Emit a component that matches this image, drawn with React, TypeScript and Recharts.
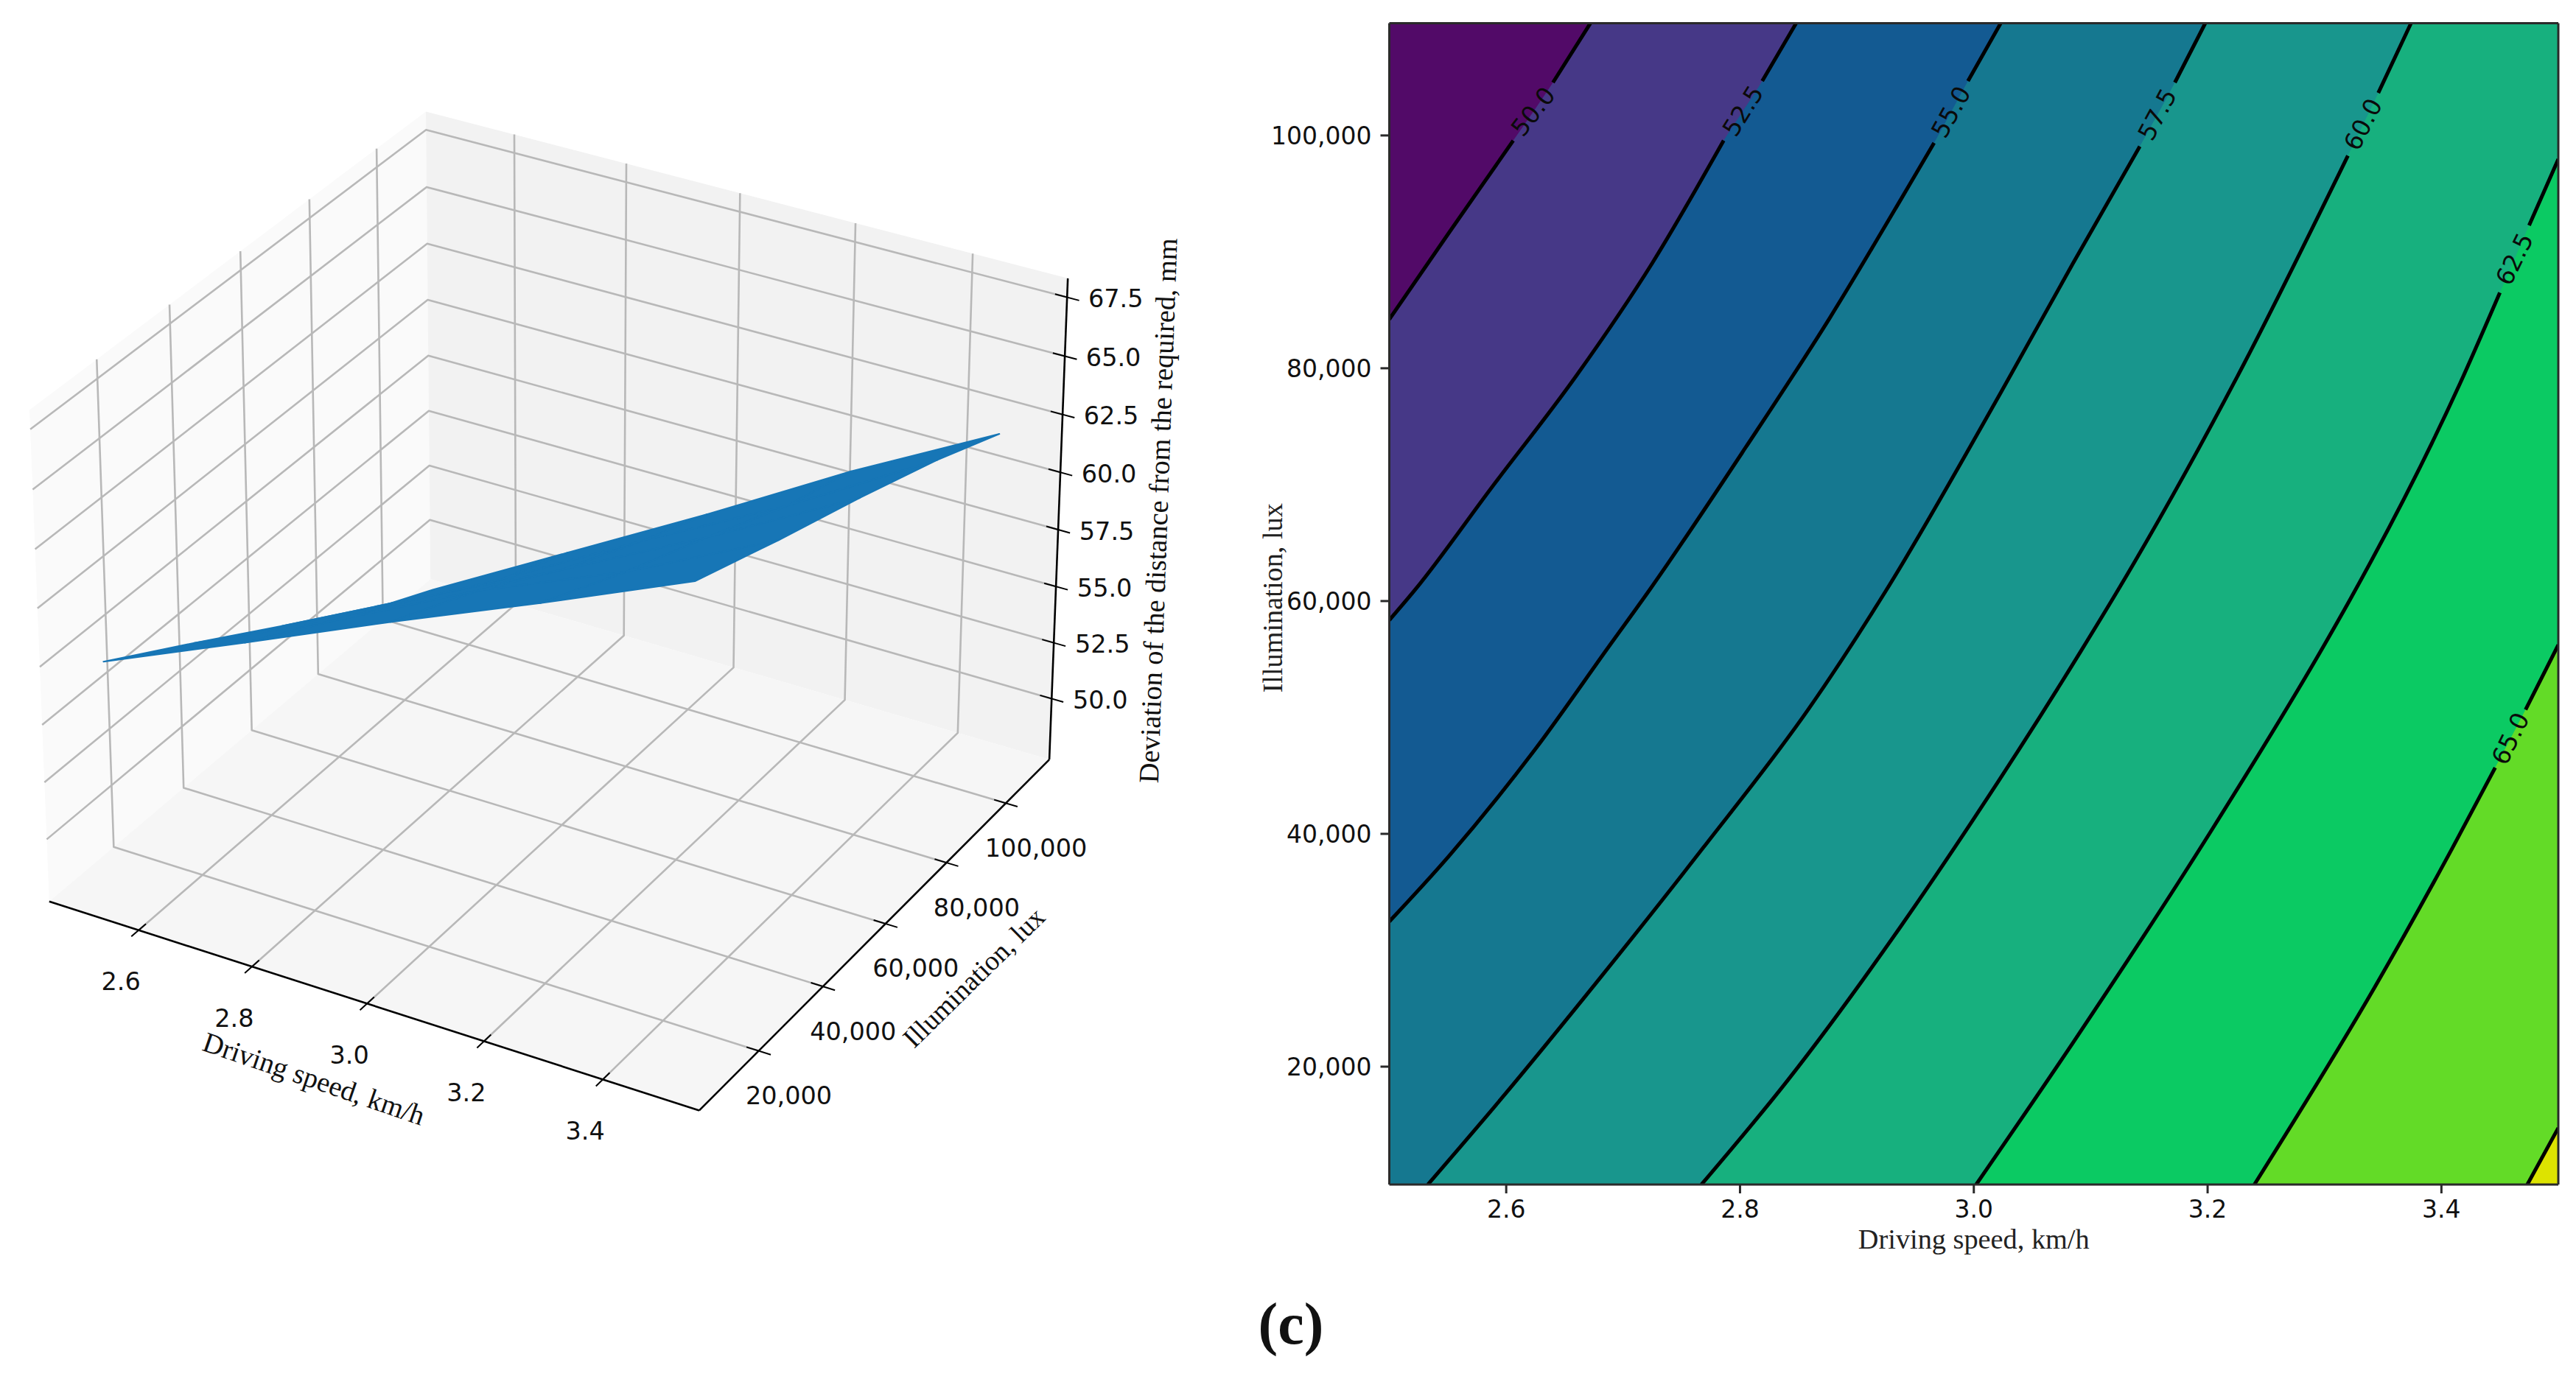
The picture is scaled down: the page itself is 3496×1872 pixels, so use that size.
import React from "react";
import {
  Area,
  ComposedChart,
  Line,
  ReferenceDot,
  ReferenceLine,
  Scatter,
  ScatterChart,
  XAxis,
  YAxis,
} from "recharts";

// shared axis ticks
const speedTicks = [2.6, 2.8, 3.0, 3.2, 3.4];
const luxTicks = [20000, 40000, 60000, 80000, 100000];
const deviationTicks = [50, 52.5, 55, 57.5, 60, 62.5, 65, 67.5];

// 3D surface
const surfaceSpeeds = [2.5, 2.75, 3.0, 3.25, 3.5];
const surfaceLux = [10000, 35000, 60000, 85000, 105700];
const surfaceAt10k = [57.15, 59.8, 62.5, 65.1, 67.8];
const surfaceAt35k = [54.8, 57.6, 60.7, 63.3, 66.4];
const surfaceAt60k = [52.4, 55.5, 58.5, 61.7, 65.1];
const surfaceAt85k = [49.95, 53.2, 56.7, 60.0, 63.7];
const surfaceAtTop = [48.35, 51.85, 55.35, 59.0, 62.35];
const surfaceRows = [surfaceAt10k, surfaceAt35k, surfaceAt60k, surfaceAt85k, surfaceAtTop];

// contour lines as [speed, lux]
const luxMin = 9873;
const luxMax = 109637;
const contour50 = [[2.5, 84200], [2.551, 91640], [2.606, 99560], [2.64, 104550], [2.672, 109640]];
const contour525 = [[2.5, 58358], [2.5224, 61012], [2.587, 69681], [2.66, 79359], [2.725, 89046], [2.786, 99561], [2.819, 104679], [2.848, 109640]];
const contour55 = [[2.5, 32470], [2.551, 38096], [2.624, 47165], [2.689, 56263], [2.723, 61012], [2.805, 73223], [2.877, 84357], [2.938, 94573], [2.966, 99361], [2.995, 104679], [3.023, 109640]];
const contour575 = [[2.533, 9873], [2.595, 17155], [2.678, 27332], [2.7685, 38805], [2.859, 50776], [2.924, 60753], [3.022, 77712], [3.085, 89046], [3.142, 99061], [3.172, 104549], [3.198, 109640]];
const contour60 = [[2.767, 9873], [2.841, 18852], [2.938, 32120], [3.0, 41299], [3.092, 55764], [3.124, 61052], [3.225, 79209], [3.32, 98264], [3.346, 103651], [3.374, 109640]];
const contour625 = [[3.002, 9873], [3.085, 22084], [3.203, 40251], [3.3, 56263], [3.322, 60154], [3.416, 78709], [3.45, 86492], [3.475, 92268], [3.5, 97965]];
const contour65 = [[3.24, 9873], [3.343, 26833], [3.409, 38705], [3.446, 45688], [3.472, 50676], [3.5, 56240]];
const contour675 = [[3.4735, 9873], [3.5, 14741]];

const contours = [
  { level: "50.0", pts: contour50, gapAfter: 2, angle: -52, fill: "#463887" },
  { level: "52.5", pts: contour525, gapAfter: 5, angle: -58, fill: "#135a92" },
  { level: "55.0", pts: contour55, gapAfter: 8, angle: -61, fill: "#157890" },
  { level: "57.5", pts: contour575, gapAfter: 8, angle: -62, fill: "#18968d" },
  { level: "60.0", pts: contour60, gapAfter: 7, angle: -63, fill: "#17b07e" },
  { level: "62.5", pts: contour625, gapAfter: 6, angle: -64, fill: "#0bca63" },
  { level: "65.0", pts: contour65, gapAfter: 3, angle: -64, fill: "#63db27" },
  { level: "", pts: contour675, gapAfter: -1, angle: 0, fill: "#dde300" },
];
const lowestFill = "#520a68";

const SERIF = "'Liberation Serif', serif";
const SANS = "'DejaVu Sans', sans-serif";
const fmtLux = (v: number) => v.toLocaleString("en-US");

// mplot3d style projection, elev 30 azim -60
const xLim = [2.44, 3.56];
const yLim = [2000, 115000];
const zLim = [47.25, 68.3];
const SCALE_X = 1012;
const SCALE_Y = 1016;
const OX = 756;
const OY = 802;
const LEFT_W = 1700;
const LEFT_H = 1872;

function project(speed: number, lux: number, dev: number) {
  const dx = (speed - xLim[0]) / (xLim[1] - xLim[0]) - 0.5;
  const dy = (lux - yLim[0]) / (yLim[1] - yLim[0]) - 0.5;
  const dz = ((dev - zLim[0]) / (zLim[1] - zLim[0]) - 0.5) * 0.75;
  const u = 0.866 * dx + 0.5 * dy;
  const v = -0.25 * dx + 0.433 * dy + 0.866 * dz;
  const n = 0.433 * dx - 0.75 * dy + 0.5 * dz;
  const f = 10 / (10 - n);
  return { x: u * f, y: v * f };
}

const [x0, x1] = xLim;
const [y0, y1] = yLim;
const [z0, z1] = zLim;
const tx = (x1 - x0) * 0.018;
const ty = (y1 - y0) * 0.018;

type Shape = { pts: { x: number; y: number }[]; stroke: string; width: number; fill?: string };
const shapes: Shape[] = [];
const add = (pts: number[][], stroke: string, width: number, fill?: string) =>
  shapes.push({ pts: pts.map((p) => project(p[0], p[1], p[2])), stroke, width, fill });

// panes
add([[x0, y0, z0], [x0, y1, z0], [x0, y1, z1], [x0, y0, z1]], "none", 0, "#fafafa");
add([[x0, y1, z0], [x1, y1, z0], [x1, y1, z1], [x0, y1, z1]], "none", 0, "#f2f2f2");
add([[x0, y0, z0], [x1, y0, z0], [x1, y1, z0], [x0, y1, z0]], "none", 0, "#f6f6f6");

// grid
const GRID = "#b8b8b8";
speedTicks.forEach((s) => add([[s, y0, z0], [s, y1, z0], [s, y1, z1]], GRID, 2.6));
luxTicks.forEach((l) => add([[x1, l, z0], [x0, l, z0], [x0, l, z1]], GRID, 2.6));
deviationTicks.forEach((d) => add([[x0, y0, d], [x0, y1, d], [x1, y1, d]], GRID, 2.6));

// surface cells
const BLUE = "#1776b6";
surfaceRows.slice(0, -1).forEach((row, r) => {
  surfaceSpeeds.slice(0, -1).forEach((s, c) => {
    add(
      [
        [s, surfaceLux[r], row[c]],
        [surfaceSpeeds[c + 1], surfaceLux[r], row[c + 1]],
        [surfaceSpeeds[c + 1], surfaceLux[r + 1], surfaceRows[r + 1][c + 1]],
        [s, surfaceLux[r + 1], surfaceRows[r + 1][c]],
      ],
      BLUE,
      2,
      BLUE
    );
  });
});

// axis lines and ticks
add([[x0, y0, z0], [x1, y0, z0]], "#000", 2.6);
add([[x1, y0, z0], [x1, y1, z0]], "#000", 2.6);
add([[x1, y1, z0], [x1, y1, z1]], "#000", 2.6);
speedTicks.forEach((s) => add([[s, y0 - ty, z0], [s, y0 + ty, z0]], "#000", 2));
luxTicks.forEach((l) => add([[x1 - tx, l, z0], [x1 + tx, l, z0]], "#000", 2));
deviationTicks.forEach((d) => add([[x1 - tx, y1, d], [x1 + tx, y1, d]], "#000", 2));

const drawShape = (shape: Shape) => (props: any) => {
  const d = props.points.map((p: any, i: number) => `${i ? "L" : "M"}${p.x} ${p.y}`).join(" ");
  return (
    <path
      d={shape.fill ? d + " Z" : d}
      fill={shape.fill || "none"}
      stroke={shape.stroke}
      strokeWidth={shape.width}
      strokeLinejoin="round"
    />
  );
};
const noDot = () => <g />;

type Note = { at: { x: number; y: number }; text: string; dx: number; dy: number; font: string; size: number; angle?: number };
const notes: Note[] = [
  ...speedTicks.map((s) => ({ at: project(s, y0, z0), text: s.toFixed(1), dx: -24, dy: 70, font: SANS, size: 33.5 })),
  ...luxTicks.map((l) => ({ at: project(x1, l, z0), text: fmtLux(l), dx: 41, dy: 61, font: SANS, size: 33.5 })),
  ...deviationTicks.map((d) => ({ at: project(x1, y1, d), text: d.toFixed(1), dx: 66, dy: 2, font: SANS, size: 33.5 })),
  { at: project(3.0, y0, z0), text: "Driving speed, km/h", dx: -72, dy: 102, font: SERIF, size: 38.5, angle: 19 },
  { at: project(x1, 60000, z0), text: "Illumination, lux", dx: 120, dy: 73, font: SERIF, size: 37.5, angle: -44.5 },
  { at: project(x1, y1, 58.75), text: "Deviation of the distance from the required, mm", dx: 134, dy: 13, font: SERIF, size: 38.3, angle: -88 },
];

const drawNote = (note: Note) => (props: any) => {
  const px = props.cx + note.dx;
  const py = props.cy + note.dy;
  return (
    <text
      x={px}
      y={py}
      fill="#111"
      fontFamily={note.font}
      fontSize={note.size}
      textAnchor="middle"
      dominantBaseline="central"
      transform={note.angle ? `rotate(${note.angle} ${px} ${py})` : undefined}
    >
      {note.text}
    </text>
  );
};

function Surface3D() {
  return (
    <ScatterChart width={LEFT_W} height={LEFT_H} margin={{ top: 0, right: 0, bottom: 0, left: 0 }}>
      <XAxis type="number" dataKey="x" hide domain={[-OX / SCALE_X, (LEFT_W - OX) / SCALE_X]} allowDataOverflow />
      <YAxis type="number" dataKey="y" hide domain={[(OY - LEFT_H) / SCALE_Y, OY / SCALE_Y]} allowDataOverflow />
      {shapes.map((s, i) => (
        <Scatter key={i} data={s.pts} line={drawShape(s)} shape={noDot} isAnimationActive={false} />
      ))}
      {notes.map((n, i) => (
        <Scatter key={`n${i}`} data={[n.at]} shape={drawNote(n)} isAnimationActive={false} />
      ))}
    </ScatterChart>
  );
}

const toRows = (pts: number[][]) => pts.map((p) => ({ speed: p[0], lux: p[1] }));

// areas have to reach the right edge, so lines leaving through the top run on past it
const areaRows = (pts: number[][]) => {
  const rows = toRows(pts);
  const last = pts[pts.length - 1];
  if (last[0] < 3.5) rows.push({ speed: 3.5, lux: last[1] + (3.5 - last[0]) * 200000 });
  return rows;
};

// the line is broken where its label sits
const lineRows = (pts: number[][], gapAfter: number) => {
  const rows: { speed: number; lux: number | null }[] = toRows(pts);
  if (gapAfter >= 0) rows.splice(gapAfter + 1, 0, { speed: (pts[gapAfter][0] + pts[gapAfter + 1][0]) / 2, lux: null });
  return rows;
};

const labelPoint = (pts: number[][], gapAfter: number) => ({
  speed: (pts[gapAfter][0] + pts[gapAfter + 1][0]) / 2,
  lux: (pts[gapAfter][1] + pts[gapAfter + 1][1]) / 2,
});

const tickStyle = { fontFamily: SANS, fontSize: 33, fill: "#111" };
const titleStyle = { fontFamily: SERIF, fontSize: 38.3, fill: "#222", textAnchor: "middle" as const };
const SPINE = "#2a2a2a";

function ContourMap() {
  return (
    <ComposedChart width={1796} height={1760} margin={{ top: 31.6, right: 24, bottom: 62, left: 0 }}>
      <XAxis
        type="number"
        dataKey="speed"
        domain={[2.5, 3.5]}
        ticks={speedTicks}
        interval={0}
        allowDataOverflow
        height={90}
        tick={tickStyle}
        tickSize={12}
        tickMargin={10}
        tickFormatter={(v: number) => v.toFixed(1)}
        stroke={SPINE}
        strokeWidth={3}
        label={{ value: "Driving speed, km/h", position: "insideBottom", offset: 3, style: titleStyle }}
      />
      <YAxis
        type="number"
        domain={[luxMin, luxMax]}
        ticks={luxTicks}
        interval={0}
        allowDataOverflow
        width={185.5}
        tick={tickStyle}
        tickSize={12}
        tickMargin={12}
        tickFormatter={fmtLux}
        stroke={SPINE}
        strokeWidth={3}
        label={{ value: "Illumination, lux", angle: -90, position: "insideLeft", offset: 26, dy: -8, style: titleStyle }}
      />
      <Area
        data={[{ speed: 2.5, lux: luxMax }, { speed: 3.5, lux: luxMax }]}
        dataKey="lux"
        type="linear"
        fill={lowestFill}
        fillOpacity={1}
        stroke="none"
        dot={false}
        isAnimationActive={false}
      />
      {contours.map((c) => (
        <Area
          key={`a${c.fill}`}
          data={areaRows(c.pts)}
          dataKey="lux"
          type="monotone"
          fill={c.fill}
          fillOpacity={1}
          stroke="none"
          dot={false}
          isAnimationActive={false}
        />
      ))}
      {contours.map((c) => (
        <Line
          key={`l${c.fill}`}
          data={lineRows(c.pts, c.gapAfter)}
          dataKey="lux"
          type="monotone"
          stroke="#000"
          strokeWidth={5}
          dot={false}
          isAnimationActive={false}
        />
      ))}
      {contours
        .filter((c) => c.gapAfter >= 0)
        .map((c) => {
          const at = labelPoint(c.pts, c.gapAfter);
          return (
            <ReferenceDot
              key={c.level}
              x={at.speed}
              y={at.lux}
              r={0}
              shape={(p: any) => (
                <text
                  x={p.cx}
                  y={p.cy}
                  fill="#0a0a0a"
                  fontFamily={SANS}
                  fontSize={33}
                  textAnchor="middle"
                  dominantBaseline="central"
                  transform={`rotate(${c.angle} ${p.cx} ${p.cy})`}
                >
                  {c.level}
                </text>
              )}
            />
          );
        })}
      <ReferenceLine y={luxMax} stroke={SPINE} strokeWidth={3} />
      <ReferenceLine x={3.5} stroke={SPINE} strokeWidth={3} />
    </ComposedChart>
  );
}

export default function App() {
  return (
    <div style={{ position: "absolute", left: 0, top: 0, width: 3496, height: 1872, background: "#fff", overflow: "hidden" }}>
      <div style={{ position: "absolute", left: 0, top: 0 }}>
        <Surface3D />
      </div>
      <div style={{ position: "absolute", left: 1700, top: 0 }}>
        <ContourMap />
      </div>
      <div
        style={{
          position: "absolute",
          left: 1652,
          top: 1755,
          width: 200,
          textAlign: "center",
          fontFamily: SERIF,
          fontWeight: 700,
          fontSize: 80,
          lineHeight: "84px",
          color: "#111",
        }}
      >
        (c)
      </div>
    </div>
  );
}
